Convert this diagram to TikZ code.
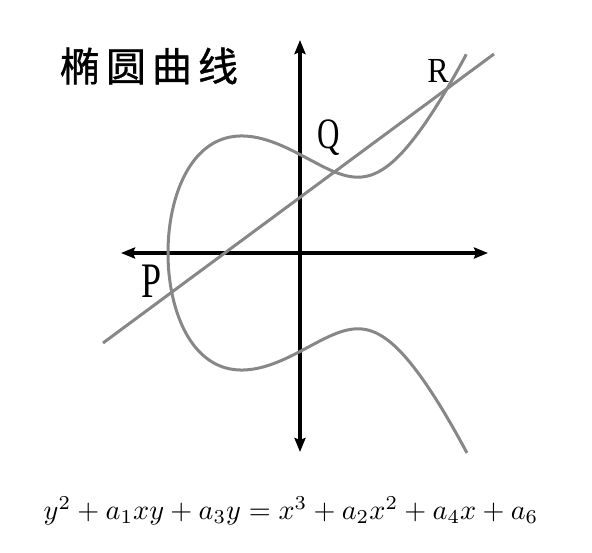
\documentclass[tikz,border=0pt]{standalone}
\usepackage{fontspec}
\newfontfamily\cjk{Noto Sans CJK SC}[FakeBold=1]
\newfontfamily\lserif{Liberation Serif}
\usetikzlibrary{arrows.meta}
\definecolor{curvegray}{RGB}{135,135,135}
\tikzset{
  axis/.style={line width=3.2pt, {Stealth[length=14pt,width=11pt,inset=2pt]}-{Stealth[length=14pt,width=11pt,inset=2pt]}},
  ecurve/.style={curvegray, line width=3pt},
  ptlabel/.style={font=\lserif\fontsize{31}{31}\selectfont, inner sep=0pt}
}
\begin{document}
\begin{tikzpicture}[x=1pt,y=-1pt]
\useasboundingbox (0,0) rectangle (592,553);
\fill[white] (0,0) rectangle (592,553);
% axes
\coordinate (yt) at (300,40);
\coordinate (yb) at (300,452);
\coordinate (xl) at (121,253);
\coordinate (xr) at (488,253);
\draw[axis] (yb) -- (yt);
\draw[axis] (xl) -- (xr);
% elliptic curve
\draw[ecurve] plot[domain=-1.729:1.729, samples=301, smooth]
  ({168+100*\x*\x}, {253-10*\x*sqrt(101.54*\x*\x*\x*\x-401.53*\x*\x+426.59)});
% secant line
\coordinate (la) at (103,343);
\coordinate (lb) at (494,54);
\draw[ecurve] (la) -- (lb);
% labels
\node[ptlabel, font=\lserif\fontsize{32}{32}\selectfont, yscale=1.1] (R) at (438,71) {R};
\node[ptlabel, yscale=1.4] (Q) at (329,138) {Q};
\node[ptlabel, font=\lserif\fontsize{36}{36}\selectfont, yscale=1.38] (P) at (152,281) {P};
\node[inner sep=0pt, font=\cjk\fontsize{40}{40}\selectfont] (title) at (149,66) {椭\hspace{6pt}圆\hspace{6pt}曲\hspace{6pt}线};
\node[inner sep=0pt, scale=2.82] (eq) at (291,511) {$y^2+a_1xy+a_3y=x^3+a_2x^2+a_4x+a_6$};
\end{tikzpicture}
\end{document}
